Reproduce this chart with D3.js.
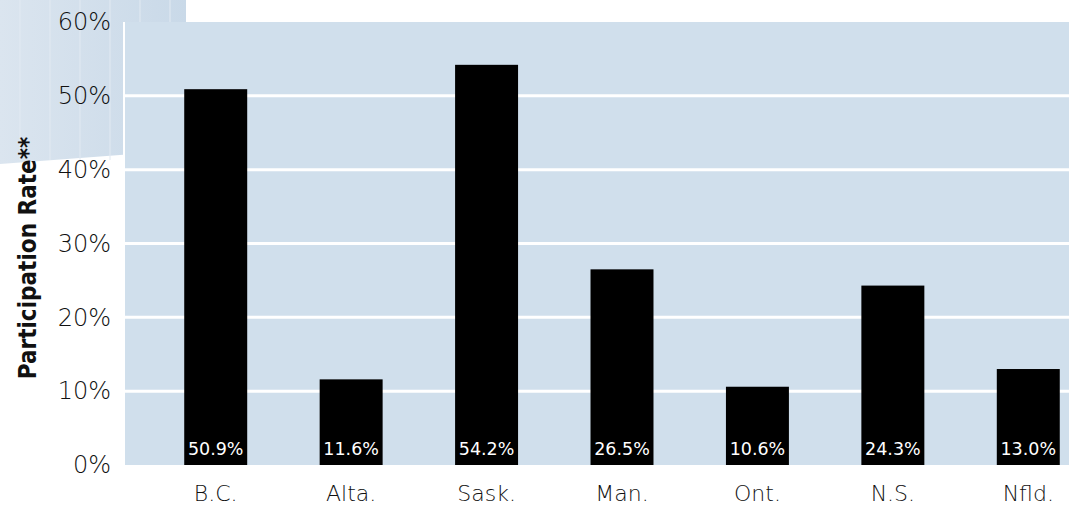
<!DOCTYPE html>
<html>
<head>
<meta charset="utf-8">
<script src="https://cdn.jsdelivr.net/npm/d3@7"></script>
<style>
  body { margin: 0; background: #fff; }
  svg { display: block; }
</style>
</head>
<body>
<script>
const provinces = ["B.C.", "Alta.", "Sask.", "Man.", "Ont.", "N.S.", "Nfld."];
const rates = [50.9, 11.6, 54.2, 26.5, 10.6, 24.3, 13.0];
const tickValues = [0, 10, 20, 30, 40, 50, 60];

const width = 1069;
const height = 510;
const margin = { top: 22, right: 0, bottom: 45, left: 125 };

const svg = d3.select("body").append("svg")
  .attr("width", width)
  .attr("height", height);

// decorative pale panel behind the upper tick labels
const defs = svg.append("defs");
const grad = defs.append("linearGradient").attr("id", "deco");
grad.append("stop").attr("offset", "0%").attr("stop-color", "#dbe5ef");
grad.append("stop").attr("offset", "100%").attr("stop-color", "#c9d9e8");
svg.append("path")
  .attr("d", "M0,0 L186,0 L186,150 L120,155 L0,164 Z")
  .attr("fill", "url(#deco)");
svg.append("g")
  .selectAll("line")
  .data(d3.range(20, 186, 30))
  .join("line")
  .attr("x1", d => d).attr("x2", d => d)
  .attr("y1", 0).attr("y2", 160)
  .attr("stroke", "#e2eaf2")
  .attr("stroke-width", 1);

const y = d3.scaleLinear()
  .domain([0, 60])
  .range([height - margin.bottom, margin.top]);

const x = d3.scaleBand()
  .domain(provinces)
  .range([148, 1096])
  .paddingInner(0.535)
  .paddingOuter(0.2675);

// plot background
svg.append("rect")
  .attr("x", margin.left)
  .attr("y", y(60))
  .attr("width", width - margin.left)
  .attr("height", y(0) - y(60))
  .attr("fill", "#d0dfec");
svg.append("line")
  .attr("x1", margin.left - 1).attr("x2", margin.left - 1)
  .attr("y1", y(60)).attr("y2", 158)
  .attr("stroke", "#fff")
  .attr("stroke-width", 2);

// gridlines
svg.append("g")
  .selectAll("line")
  .data(tickValues.filter(d => d > 0 && d < 60))
  .join("line")
  .attr("x1", margin.left)
  .attr("x2", width)
  .attr("y1", d => y(d))
  .attr("y2", d => y(d))
  .attr("stroke", "#fff")
  .attr("stroke-width", 3);

// y axis labels
const yAxis = d3.axisLeft(y)
  .tickValues(tickValues)
  .tickFormat(d => d + "%")
  .tickSize(0)
  .tickPadding(14);

svg.append("g")
  .attr("transform", `translate(${margin.left},0)`)
  .call(yAxis)
  .call(g => g.select(".domain").remove())
  .selectAll("text")
  .attr("font-family", "'DejaVu Sans', sans-serif")
  .attr("font-weight", 300)
  .attr("font-size", 24)
  .attr("fill", "#111");

// bars
svg.append("g")
  .selectAll("rect")
  .data(provinces)
  .join("rect")
  .attr("x", d => x(d))
  .attr("width", x.bandwidth())
  .attr("y", (d, i) => y(rates[i]))
  .attr("height", (d, i) => y(0) - y(rates[i]))
  .attr("fill", "#000");

// value labels
svg.append("g")
  .selectAll("text")
  .data(provinces)
  .join("text")
  .attr("x", d => x(d) + x.bandwidth() / 2)
  .attr("y", y(0) - 10)
  .attr("text-anchor", "middle")
  .attr("font-family", "'DejaVu Sans', sans-serif")
  .attr("font-size", 17.5)
  .attr("fill", "#fff")
  .text((d, i) => rates[i].toFixed(1) + "%");

// x axis labels
const xAxis = d3.axisBottom(x).tickSize(0).tickPadding(20);
svg.append("g")
  .attr("transform", `translate(0,${y(0)})`)
  .call(xAxis)
  .call(g => g.select(".domain").remove())
  .selectAll("text")
  .attr("font-family", "'DejaVu Sans', sans-serif")
  .attr("font-weight", 300)
  .attr("font-size", 22)
  .attr("fill", "#111");

// y axis title
svg.append("text")
  .attr("transform", "translate(36,258) rotate(-90)")
  .attr("text-anchor", "middle")
  .attr("font-family", "'DejaVu Sans Condensed', 'DejaVu Sans', sans-serif")
  .attr("font-stretch", "condensed")
  .attr("font-weight", "bold")
  .attr("font-size", 24)
  .attr("fill", "#111")
  .text("Participation Rate**");
</script>
</body>
</html>
